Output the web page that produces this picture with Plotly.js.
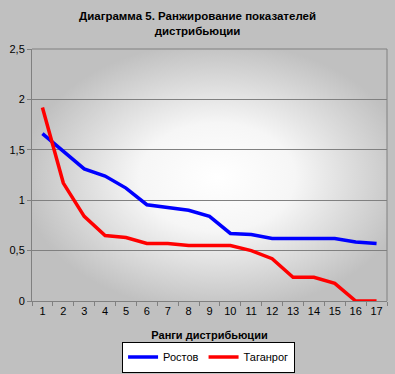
<!DOCTYPE html>
<html>
<head>
<meta charset="utf-8">
<script src="https://cdn.plot.ly/plotly-3.0.1.min.js"></script>
<style>
html,body{margin:0;padding:0;background:#c0c0c0;}
#chart{width:395px;height:374px;}
</style>
</head>
<body>
<div id="chart"></div>
<script>
var ranks = ['1','2','3','4','5','6','7','8','9','10','11','12','13','14','15','16','17'];
var rostov = [1.66,1.48,1.31,1.24,1.12,0.955,0.93,0.90,0.84,0.67,0.66,0.62,0.62,0.62,0.62,0.585,0.57];
var taganrog = [1.92,1.17,0.84,0.65,0.63,0.57,0.57,0.55,0.55,0.55,0.50,0.42,0.235,0.235,0.175,0,0];
var yTickVals = [0,0.5,1,1.5,2,2.5];
var yTickText = ['0','0,5','1','1,5','2','2,5'];

// radial gradient background image for plot area
var cv = document.createElement('canvas');
cv.width = 355; cv.height = 252;
var ctx = cv.getContext('2d');
ctx.fillStyle = '#c0c0c0';
ctx.fillRect(0,0,355,252);
ctx.save();
ctx.translate(185,128);
ctx.scale(1.45,1);
var g = ctx.createRadialGradient(0,0,0,0,0,135);
g.addColorStop(0,'#ffffff');
g.addColorStop(0.4,'#f6f6f6');
g.addColorStop(1,'#c0c0c0');
ctx.fillStyle = g;
ctx.fillRect(-200,-200,400,400);
ctx.restore();
var bgUrl = cv.toDataURL('image/png');

var font = 'Arial, "Liberation Sans", sans-serif';

var traces = [
  {x: ranks, y: rostov, name: 'Ростов', type: 'scatter', mode: 'lines',
   line: {color: '#0000ff', width: 3.5}},
  {x: ranks, y: taganrog, name: 'Таганрог', type: 'scatter', mode: 'lines',
   line: {color: '#ff0000', width: 3.5}}
];

var layout = {
  width: 395, height: 374,
  margin: {l: 32, r: 8, t: 49, b: 73},
  paper_bgcolor: '#c0c0c0',
  plot_bgcolor: 'rgba(0,0,0,0)',
  font: {family: font, size: 11, color: '#000'},
  title: {text: '<b>Диаграмма 5. Ранжирование показателей<br>дистрибьюции</b>',
          font: {family: font, size: 11.5, color: '#000'},
          x: 0.5, xanchor: 'center', y: 0.947, yanchor: 'top'},
  xaxis: {type: 'category', range: [-0.5, 16.5], automargin: false,
          showgrid: false, zeroline: false, tickangle: 0,
          showline: true, linecolor: '#808080', linewidth: 1, mirror: false,
          ticks: 'outside', tickson: 'boundaries', ticklen: 4, tickcolor: '#808080',
          tickfont: {family: font, size: 11, color: '#000'},
          title: {text: '<b>Ранги дистрибьюции</b>', font: {family: font, size: 11, color: '#000'}, standoff: 16}},
  yaxis: {range: [0, 2.5], tickvals: yTickVals, ticktext: yTickText, automargin: false,
          showgrid: true, gridcolor: '#808080', gridwidth: 1, zeroline: false,
          showline: true, linecolor: '#808080', linewidth: 1,
          ticks: 'outside', ticklen: 4, tickcolor: '#808080',
          tickfont: {family: font, size: 11, color: '#000'}},
  shapes: [
    {type: 'line', xref: 'paper', yref: 'paper', x0: 0, x1: 1, y0: 1, y1: 1, line: {color: '#808080', width: 1}},
    {type: 'line', xref: 'paper', yref: 'paper', x0: 1, x1: 1, y0: 0, y1: 1, line: {color: '#808080', width: 1}}
  ],
  images: [{source: bgUrl, xref: 'paper', yref: 'paper', x: 0, y: 1, sizex: 1, sizey: 1,
            sizing: 'stretch', xanchor: 'left', yanchor: 'top', layer: 'below'}],
  showlegend: true,
  legend: {orientation: 'h', xref: 'container', yref: 'container',
           x: 0.528, xanchor: 'center', y: 0.004, yanchor: 'bottom',
           bgcolor: '#ffffff', bordercolor: '#000000', borderwidth: 1,
           font: {family: font, size: 11, color: '#000'},
           itemwidth: 30, tracegroupgap: 0}
};

Plotly.newPlot('chart', traces, layout, {displayModeBar: false, staticPlot: true});
</script>
</body>
</html>
